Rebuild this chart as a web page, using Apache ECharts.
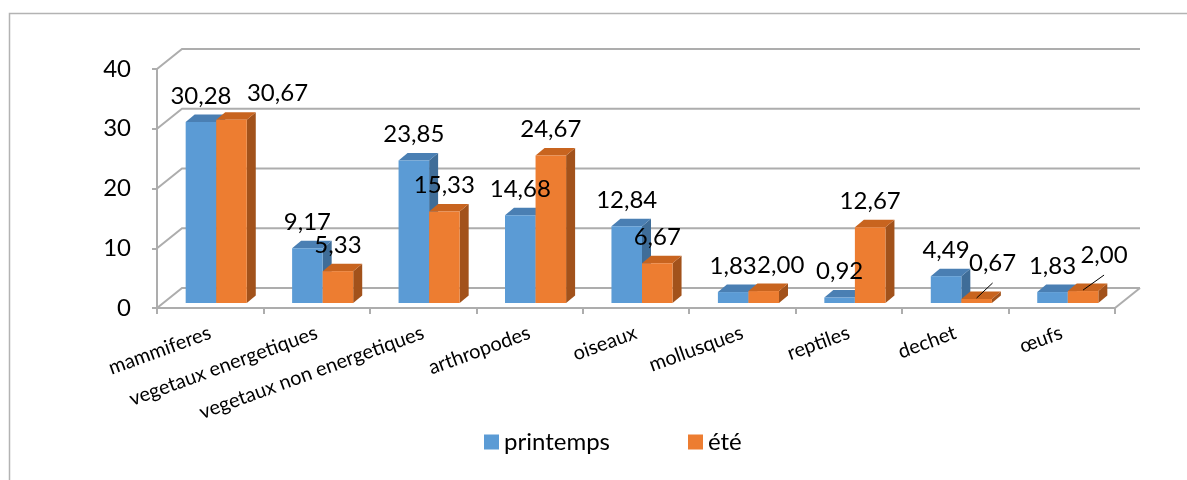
<!DOCTYPE html>
<html>
<head>
<meta charset="utf-8">
<script src="https://cdn.jsdelivr.net/npm/echarts@6/dist/echarts.min.js"></script>
<style>
  html, body { margin: 0; padding: 0; background: #fff; }
  #chart { width: 1187px; height: 480px; }
</style>
</head>
<body>
<div id="chart"></div>
<script>
// Diet composition by category, spring vs summer
const categories = ['mammiferes', 'vegetaux energetiques', 'vegetaux non energetiques', 'arthropodes', 'oiseaux', 'mollusques', 'reptiles', 'dechet', 'œufs'];
const printemps = [30.28, 9.17, 23.85, 14.68, 12.84, 1.83, 0.92, 4.49, 1.83];
const ete = [30.67, 5.33, 15.33, 24.67, 6.67, 2.00, 12.67, 0.67, 2.00];
const yTicks = [0, 10, 20, 30, 40];
const seriesNames = ['printemps', 'été'];

// pseudo-3D projection offsets (pixels)
const WALL = [25, -20];        // front plane -> back wall
const BAR_SHIFT = [6, -5];     // front plane -> bar front faces
const BAR_DEPTH = [9, -7.5];   // bar front -> bar back
const BAR_RATIO = 0.287;       // bar width as share of a category band
const GRID_COLOR = '#adadad';
const FONT = 'Lato, "Open Sans", sans-serif';

const COLORS = [
  { front: '#5b9bd5', top: '#4a7fb3', side: '#3f6d98' },
  { front: '#ed7d31', top: '#c8641f', side: '#a2521b' }
];

// nudges for crowded value labels: series -> category -> [dx, dy, leader]
const LABEL_NUDGE = {
  1: { 0: [46, 0], 5: [17, 0], 7: [16, -10, true], 8: [21, -10, true] }
};

function fmt(v) { return v.toFixed(2).replace('.', ','); }

function barGeom(api, i, v, s) {
  const base = api.coord([i, 0]);
  const topPt = api.coord([i, v]);
  const bw = api.size([1, 0])[0] * BAR_RATIO;
  const x0 = base[0] - bw + s * bw + BAR_SHIFT[0];
  return { x0: x0, x1: x0 + bw, yb: base[1] + BAR_SHIFT[1], yt: topPt[1] + BAR_SHIFT[1], bw: bw };
}

function barRenderer(s) {
  return function (params, api) {
    const i = api.value(0), v = api.value(1);
    const g = barGeom(api, i, v, s);
    const dx = BAR_DEPTH[0], dy = BAR_DEPTH[1];
    const c = COLORS[s];
    return {
      type: 'group',
      children: [
        { type: 'polygon', shape: { points: [[g.x1, g.yb], [g.x1 + dx, g.yb + dy], [g.x1 + dx, g.yt + dy], [g.x1, g.yt]] }, style: { fill: c.side } },
        { type: 'polygon', shape: { points: [[g.x0, g.yt], [g.x1, g.yt], [g.x1 + dx, g.yt + dy], [g.x0 + dx, g.yt + dy]] }, style: { fill: c.top } },
        { type: 'rect', shape: { x: g.x0, y: g.yt, width: g.bw, height: g.yb - g.yt }, style: { fill: c.front } }
      ]
    };
  };
}

function labelRenderer(params, api) {
  const i = api.value(0), v = api.value(1), s = api.value(2);
  const g = barGeom(api, i, v, s);
  const cx = (g.x0 + g.x1) / 2;
  const nudge = (LABEL_NUDGE[s] && LABEL_NUDGE[s][i]) || [0, 0];
  const lx = cx + nudge[0];
  const ly = g.yt - 26 + nudge[1];
  const children = [{
    type: 'text',
    style: { text: fmt(v), x: lx, y: ly, align: 'center', verticalAlign: 'middle', fill: '#000', font: '24px ' + FONT }
  }];
  if (nudge[2]) {
    children.push({ type: 'line', shape: { x1: cx, y1: g.yt - 1, x2: lx, y2: ly + 20 }, style: { stroke: '#000', lineWidth: 1 } });
  }
  return { type: 'group', children: children };
}

function wallRenderer(params, api) {
  const v = api.value(1);
  const cs = params.coordSys;
  const y = api.coord([0, v])[1];
  const xl = cs.x, xr = cs.x + cs.width;
  const children = [{
    type: 'polyline',
    shape: { points: [[xl, y], [xl + WALL[0], y + WALL[1]], [xr + WALL[0], y + WALL[1]]] },
    style: { stroke: GRID_COLOR, lineWidth: 2, fill: null }
  }];
  if (v === 0) {
    children.push({ type: 'line', shape: { x1: xr, y1: y, x2: xr + WALL[0], y2: y + WALL[1] }, style: { stroke: GRID_COLOR, lineWidth: 2 } });
  }
  return { type: 'group', children: children };
}

const labelData = [];
[printemps, ete].forEach(function (arr, s) {
  arr.forEach(function (v, i) { labelData.push([i, v, s]); });
});

const chart = echarts.init(document.getElementById('chart'), null, { renderer: 'canvas' });
chart.setOption({
  animation: false,
  backgroundColor: '#fff',
  textStyle: { fontFamily: FONT },
  graphic: [{
    type: 'polyline',
    shape: { points: [[9.5, 480], [9.5, 13.5], [1187, 13.5]] },
    style: { stroke: '#b3b3b3', lineWidth: 1.5, fill: null },
    silent: true
  }],
  grid: { left: 157, right: 72, top: 69, bottom: 172 },
  legend: {
    data: seriesNames,
    left: 479, top: 425,
    icon: 'rect', itemWidth: 15, itemHeight: 15, itemGap: 78,
    textStyle: { fontFamily: FONT, fontSize: 24, color: '#000' }
  },
  xAxis: {
    type: 'category',
    data: categories,
    axisLine: { show: true, lineStyle: { color: GRID_COLOR, width: 2 } },
    axisTick: { show: true, length: 6, lineStyle: { color: GRID_COLOR, width: 2 } },
    axisLabel: { interval: 0, rotate: 20, margin: 24, fontSize: 20, color: '#000', fontFamily: FONT },
    splitLine: { show: false }
  },
  yAxis: {
    type: 'value',
    min: 0, max: 40, interval: 10,
    axisLine: { show: true, lineStyle: { color: GRID_COLOR, width: 2 } },
    axisTick: { show: true, length: 5, lineStyle: { color: GRID_COLOR, width: 2 } },
    axisLabel: { margin: 26, fontSize: 24, color: '#000', fontFamily: FONT },
    splitLine: { show: false }
  },
  series: [
    {
      type: 'custom', name: 'walls', z: 1, silent: true,
      renderItem: wallRenderer,
      data: yTicks.map(function (t) { return [0, t]; }),
      encode: { x: 0, y: 1 }
    },
    {
      type: 'custom', name: seriesNames[0], z: 2,
      itemStyle: { color: COLORS[0].front },
      renderItem: barRenderer(0),
      data: printemps.map(function (v, i) { return [i, v]; }),
      encode: { x: 0, y: 1 }
    },
    {
      type: 'custom', name: seriesNames[1], z: 3,
      itemStyle: { color: COLORS[1].front },
      renderItem: barRenderer(1),
      data: ete.map(function (v, i) { return [i, v]; }),
      encode: { x: 0, y: 1 }
    },
    {
      type: 'custom', name: 'values', z: 10, silent: true,
      renderItem: labelRenderer,
      data: labelData,
      encode: { x: 0, y: 1 }
    }
  ]
});
</script>
</body>
</html>
